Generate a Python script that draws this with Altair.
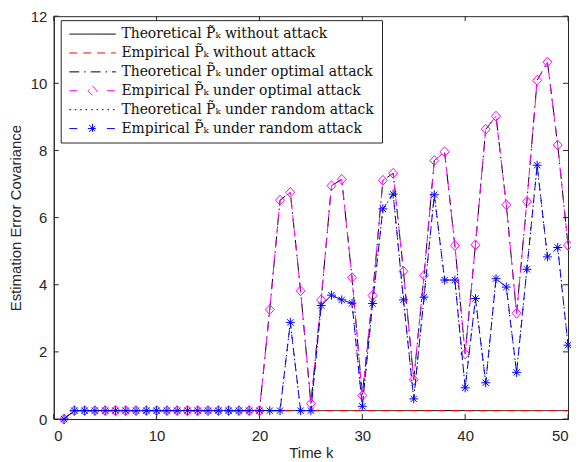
import altair as alt
import pandas as pd

# ---------------- data ----------------
k = [1, 2, 3, 4, 5, 6, 7, 8, 9, 10, 11, 12, 13, 14, 15, 16, 17, 18, 19, 20,
     21, 22, 23, 24, 25, 26, 27, 28, 29, 30, 31, 32, 33, 34, 35, 36, 37, 38, 39, 40,
     41, 42, 43, 44, 45, 46, 47, 48, 49, 50]

theo_no_attack = [0.00, 0.25, 0.25, 0.25, 0.25, 0.25, 0.25, 0.25, 0.25, 0.25,
                  0.25, 0.25, 0.25, 0.25, 0.25, 0.25, 0.25, 0.25, 0.25, 0.25,
                  0.25, 0.25, 0.25, 0.25, 0.25, 0.25, 0.25, 0.25, 0.25, 0.25,
                  0.25, 0.25, 0.25, 0.25, 0.25, 0.25, 0.25, 0.25, 0.25, 0.25,
                  0.25, 0.25, 0.25, 0.25, 0.25, 0.25, 0.25, 0.25, 0.25, 0.25]
emp_no_attack = [0.00, 0.25, 0.25, 0.25, 0.25, 0.25, 0.25, 0.25, 0.25, 0.25,
                 0.25, 0.25, 0.25, 0.25, 0.25, 0.25, 0.25, 0.25, 0.25, 0.25,
                 0.25, 0.25, 0.25, 0.25, 0.25, 0.25, 0.25, 0.25, 0.25, 0.25,
                 0.25, 0.25, 0.25, 0.25, 0.25, 0.25, 0.25, 0.25, 0.25, 0.25,
                 0.25, 0.25, 0.25, 0.25, 0.25, 0.25, 0.25, 0.25, 0.25, 0.25]
theo_optimal = [0.00, 0.25, 0.25, 0.25, 0.25, 0.25, 0.25, 0.25, 0.25, 0.25,
                0.25, 0.25, 0.25, 0.25, 0.25, 0.25, 0.25, 0.25, 0.25, 0.25,
                3.26, 6.52, 6.75, 3.82, 0.46, 3.55, 6.95, 7.14, 4.21, 0.70,
                3.68, 7.11, 7.32, 4.40, 1.17, 4.28, 7.70, 7.96, 5.17, 1.94,
                5.19, 8.63, 9.02, 6.38, 3.15, 6.48, 10.09, 10.63, 8.16, 5.18]
emp_optimal = [0.00, 0.25, 0.25, 0.25, 0.25, 0.25, 0.25, 0.25, 0.25, 0.25,
               0.25, 0.25, 0.25, 0.25, 0.25, 0.25, 0.25, 0.25, 0.25, 0.25,
               3.26, 6.52, 6.75, 3.82, 0.46, 3.55, 6.95, 7.14, 4.21, 0.70,
               3.68, 7.11, 7.32, 4.40, 1.17, 4.28, 7.70, 7.96, 5.17, 1.94,
               5.19, 8.63, 9.02, 6.38, 3.15, 6.48, 10.09, 10.63, 8.16, 5.18]
theo_random = [0.00, 0.25, 0.25, 0.25, 0.25, 0.25, 0.25, 0.25, 0.25, 0.25,
               0.25, 0.25, 0.25, 0.25, 0.25, 0.25, 0.25, 0.25, 0.25, 0.25,
               0.25, 0.25, 2.88, 0.25, 0.25, 3.38, 3.69, 3.55, 3.45, 0.38,
               3.44, 6.26, 6.70, 3.55, 0.60, 3.63, 6.68, 4.14, 4.14, 0.93,
               3.59, 1.08, 4.18, 3.93, 1.39, 4.46, 7.56, 4.83, 5.11, 2.20]
emp_random = [0.00, 0.25, 0.25, 0.25, 0.25, 0.25, 0.25, 0.25, 0.25, 0.25,
              0.25, 0.25, 0.25, 0.25, 0.25, 0.25, 0.25, 0.25, 0.25, 0.25,
              0.25, 0.25, 2.88, 0.25, 0.25, 3.38, 3.69, 3.55, 3.45, 0.38,
              3.44, 6.26, 6.70, 3.55, 0.60, 3.63, 6.68, 4.14, 4.14, 0.93,
              3.59, 1.08, 4.18, 3.93, 1.39, 4.46, 7.56, 4.83, 5.11, 2.20]

names = [
    "Theoretical P\u0303\u2096 without attack",
    "Empirical P\u0303\u2096 without attack",
    "Theoretical P\u0303\u2096 under optimal attack",
    "Empirical P\u0303\u2096 under optimal attack",
    "Theoretical P\u0303\u2096 under random attack",
    "Empirical P\u0303\u2096 under random attack",
]
series_values = [theo_no_attack, emp_no_attack, theo_optimal, emp_optimal,
                 theo_random, emp_random]

x_ticks = [0, 10, 20, 30, 40, 50]
y_ticks = [0, 2, 4, 6, 8, 10, 12]

# ---------------- styles ----------------
colors = ["#000000", "#FF0000", "#000000", "#FF00FF", "#000000", "#0000FF"]
dashes = [[1, 0], [8, 6], [10, 5, 1.5, 5], [8, 6], [1.5, 4], [8, 6]]

rows = []
for i, (nm, vals) in enumerate(zip(names, series_values)):
    for kk, vv in zip(k, vals):
        rows.append({"k": kk, "value": vv, "series": nm, "order": i})
df = pd.DataFrame(rows)
xt = pd.DataFrame({"v": x_ticks})
yt = pd.DataFrame({"v": y_ticks})

W, H = 517, 405
AX = "#262626"

xscale = alt.Scale(domain=[0, 50], nice=False, zero=False)
yscale = alt.Scale(domain=[0, 12], nice=False, zero=False)
xaxis = alt.Axis(values=x_ticks, ticks=False, labelPadding=10, titlePadding=2,
                 grid=False, format="d")
yaxis = alt.Axis(values=y_ticks, ticks=False, labelPadding=7, titlePadding=7,
                 grid=False, format="d")
X = lambda f: alt.X(f, title="Time k", scale=xscale, axis=xaxis)
Y = lambda f: alt.Y(f, title="Estimation Error Covariance", scale=yscale, axis=yaxis)

diamond_legend = "M-3.9,0H-2.4M2.4,0H3.9M0,-0.83L0.75,0L0,0.83L-0.75,0Z"
star_legend = ("M-3.9,0H-2.4M2.4,0H3.9M0,-0.78V0.78M-0.78,0H0.78"
               "M-0.55,-0.55L0.55,0.55M-0.55,0.55L0.55,-0.55")
line_legend = "M-3.9,0H3.9"

shape_expr = (
    "indexof(datum.value,'Empirical')==0 && indexof(datum.value,'optimal')>0 ? '" + diamond_legend + "' : "
    "indexof(datum.value,'Empirical')==0 && indexof(datum.value,'random')>0 ? '" + star_legend + "' : '"
    + line_legend + "'"
)
dash_expr = (
    "indexof(datum.value,'Empirical')==0 && indexof(datum.value,'without')>0 ? [9,9] : "
    "indexof(datum.value,'Theoretical')==0 && indexof(datum.value,'optimal')>0 ? [1.5,6,10,6] : "
    "indexof(datum.value,'Theoretical')==0 && indexof(datum.value,'random')>0 ? [1.5,6] : [1,0]"
)

legend = alt.Legend(
    title=None,
    orient="none",
    legendX=7,
    legendY=4,
    symbolType={"expr": shape_expr},
    symbolDash={"expr": dash_expr},
    symbolStrokeColor={"expr": "scale('color', datum.value)"},
    symbolSize=144,
    symbolOffset=18,
    symbolFillColor="transparent",
    symbolStrokeWidth=1,
    labelOffset=22,
    labelFont="DejaVu Serif",
    labelFontSize=14,
    labelColor="#111111",
    labelLimit=500,
    rowPadding=5,
    padding=7,
    strokeColor=AX,
    fillColor="#FFFFFF",
    cornerRadius=0,
)

color_enc = alt.Color("series:N", scale=alt.Scale(domain=names, range=colors), legend=legend)
dash_enc = alt.StrokeDash("series:N", scale=alt.Scale(domain=names, range=dashes), legend=None)

lines1 = alt.Chart(df).transform_filter("datum.order <= 3").mark_line(strokeWidth=1, clip=True).encode(
    x=X("k:Q"), y=Y("value:Q"), color=color_enc, strokeDash=dash_enc,
    order=alt.Order("k:Q"), detail="series:N")

diamond_path = "M0,-1L0.9,0L0,1L-0.9,0Z"
diamonds = alt.Chart(df).transform_filter("datum.order == 3").mark_point(
    shape=diamond_path, filled=False, color="#FF00FF", size=100, strokeWidth=1, opacity=1
).encode(x=X("k:Q"), y=Y("value:Q"))

lines2 = alt.Chart(df).transform_filter("datum.order >= 4").mark_line(strokeWidth=1, clip=True).encode(
    x=X("k:Q"), y=Y("value:Q"), color=color_enc, strokeDash=dash_enc,
    order=alt.Order("k:Q"), detail="series:N")

star_path = "M0,-1V1M-1,0H1M-0.7,-0.7L0.7,0.7M-0.7,0.7L0.7,-0.7"
stars = alt.Chart(df).transform_filter("datum.order == 5").mark_point(
    shape=star_path, filled=False, color="#0000FF", size=81, strokeWidth=1, opacity=1
).encode(x=X("k:Q"), y=Y("value:Q"))

tick_len = 5
bottom_ticks = alt.Chart(xt).mark_rule(color=AX, strokeWidth=1).encode(
    x=X("v:Q"), y=alt.value(H), y2=alt.value(H - tick_len))
top_ticks = alt.Chart(xt).mark_rule(color=AX, strokeWidth=1).encode(
    x=X("v:Q"), y=alt.value(0), y2=alt.value(tick_len))
left_ticks = alt.Chart(yt).mark_rule(color=AX, strokeWidth=1).encode(
    y=Y("v:Q"), x=alt.value(0), x2=alt.value(tick_len))
right_ticks = alt.Chart(yt).mark_rule(color=AX, strokeWidth=1).encode(
    y=Y("v:Q"), x=alt.value(W), x2=alt.value(W - tick_len))

chart = alt.layer(
    bottom_ticks, top_ticks, left_ticks, right_ticks,
    lines1, diamonds, lines2, stars,
).properties(
    width=W, height=H,
    autosize="none",
    padding={"left": 46, "top": 7, "right": 3, "bottom": 46},
    background="#FFFFFF",
).configure_view(
    stroke=AX, strokeWidth=1
).configure_axis(
    domainColor=AX, domainWidth=1,
    labelColor=AX, titleColor=AX,
    labelFont="Liberation Sans", titleFont="Liberation Sans",
    labelFontSize=15, titleFontSize=15, titleFontWeight="normal",
)

chart.save("out.html", embed_options={"renderer": "svg", "actions": False})
